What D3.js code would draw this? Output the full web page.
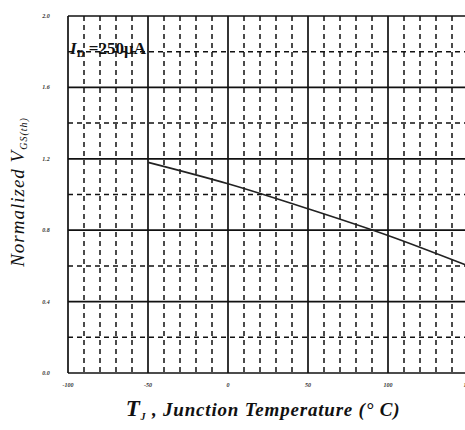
<!DOCTYPE html>
<html>
<head>
<meta charset="utf-8">
<script src="https://cdn.jsdelivr.net/npm/d3@7"></script>
<style>
body { margin: 0; background: #fff; }
svg { display: block; }
.tick-lbl { font-family: "Liberation Serif", serif; font-style: italic; font-weight: bold; font-size: 6px; fill: #333; }
</style>
</head>
<body>
<svg id="chart" width="465" height="430"></svg>
<script>
// data
var temps = [-50, 0, 50, 100, 150];
var vth = [1.18, 1.06, 0.92, 0.77, 0.60];
var xTicks = [-100, -50, 0, 50, 100, 150];
var yTicks = [0.0, 0.4, 0.8, 1.2, 1.6, 2.0];

var svg = d3.select("#chart");
var plotL = 68, plotR = 468, plotT = 16, plotB = 373;

var x = d3.scaleLinear().domain([-100, 150]).range([plotL, plotR]);
var y = d3.scaleLinear().domain([0, 2.0]).range([plotB, plotT]);

//minor dashed grid, every 10 deg and every 0.2
var minorX = d3.range(-100, 151, 10).filter(function(d){ return d % 50 != 0; });
var minorY = [0.2, 0.6, 1.0, 1.4, 1.8];

svg.append("g").selectAll("line").data(minorX).enter().append("line")
	.attr("x1", function(d){ return x(d); })
	.attr("x2", function(d){ return x(d); })
	.attr("y1", plotT).attr("y2", plotB)
	.style("stroke", "#111").style("stroke-width", 1.5)
	.style("stroke-dasharray", "5,4");

svg.append("g").selectAll("line").data(minorY).enter().append("line")
	.attr("y1", function(d){ return y(d); })
	.attr("y2", function(d){ return y(d); })
	.attr("x1", plotL).attr("x2", plotR)
	.style("stroke", "#111").style("stroke-width", 1.5)
	.style("stroke-dasharray", "5,4");

//major solid grid
svg.append("g").selectAll("line").data(xTicks).enter().append("line")
	.attr("x1", function(d){ return x(d); })
	.attr("x2", function(d){ return x(d); })
	.attr("y1", plotT).attr("y2", plotB)
	.style("stroke", "#111").style("stroke-width", 1.7);

svg.append("g").selectAll("line").data(yTicks).enter().append("line")
	.attr("y1", function(d){ return y(d); })
	.attr("y2", function(d){ return y(d); })
	.attr("x1", plotL).attr("x2", plotR)
	.style("stroke", "#111").style("stroke-width", 1.7);

//tick labels
svg.append("g").selectAll("text").data(xTicks).enter().append("text")
	.attr("class", "tick-lbl")
	.attr("x", function(d){ return x(d); })
	.attr("y", plotB + 14)
	.attr("text-anchor", "middle")
	.text(function(d){ return d; });

svg.append("g").selectAll("text").data(yTicks).enter().append("text")
	.attr("class", "tick-lbl")
	.attr("x", plotL - 22)
	.attr("y", function(d){ return y(d) + 2; })
	.attr("text-anchor", "middle")
	.text(function(d){ return d.toFixed(1); });

//the curve
var line = d3.line()
	.x(function(d, i){ return x(temps[i]); })
	.y(function(d){ return y(d); })
	.curve(d3.curveMonotoneX);

svg.append("path")
	.datum(vth)
	.attr("d", line)
	.style("fill", "none")
	.style("stroke", "#222")
	.style("stroke-width", 1.6);

//annotation
var ann = svg.append("text")
	.attr("x", 70).attr("y", 54)
	.style("font-family", "Liberation Serif, serif")
	.style("font-weight", "bold")
	.style("font-size", "17px")
	.style("fill", "#111");
ann.append("tspan").style("font-style", "italic").text("I");
ann.append("tspan").attr("dy", 3).style("font-size", "11px").text("D");
ann.append("tspan").attr("dy", -3).text(" =250μA");

//axis titles
var xt = svg.append("text")
	.attr("x", 263).attr("y", 416)
	.attr("text-anchor", "middle")
	.style("font-family", "Liberation Serif, serif")
	.style("font-style", "italic")
	.style("font-weight", "bold")
	.style("font-size", "19px")
	.style("letter-spacing", "0.8px")
	.style("fill", "#111");
xt.append("tspan").style("font-size", "23px").text("T");
xt.append("tspan").attr("dy", 4).style("font-size", "10px").text("J");
xt.append("tspan").attr("dy", -4).text(" , Junction Temperature (° C)");

var yt = svg.append("text")
	.attr("transform", "translate(24,192) rotate(-90)")
	.attr("text-anchor", "middle")
	.style("font-family", "Liberation Serif, serif")
	.style("font-style", "italic")
	.style("font-size", "19px")
	.style("letter-spacing", "1px")
	.style("fill", "#111");
yt.append("tspan").text("Normalized V");
yt.append("tspan").attr("dy", 3).style("font-size", "10px").text("GS(th)");
</script>
</body>
</html>
